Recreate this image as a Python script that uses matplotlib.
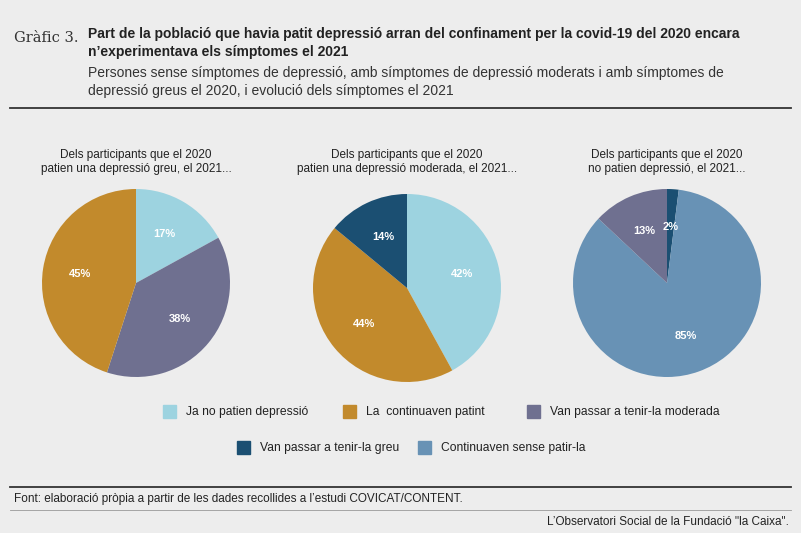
import matplotlib.pyplot as plt

plt.rcParams['font.family'] = ['Liberation Sans', 'DejaVu Sans']

W, H = 801, 533
bg = "#ededed"

c_ja = "#9dd3e0"
c_cont = "#c28a2c"
c_mod = "#6f7090"
c_greu = "#1b4f72"
c_sense = "#6892b5"

pie_titles = ["Dels participants que el 2020\npatien una depressió greu, el 2021...",
              "Dels participants que el 2020\npatien una depressió moderada, el 2021...",
              "Dels participants que el 2020\nno patien depressió, el 2021..."]
pie_values = [[17, 38, 45], [42, 44, 14], [2, 85, 13]]
pie_colors = [[c_ja, c_mod, c_cont], [c_ja, c_cont, c_greu], [c_greu, c_sense, c_mod]]
centers = [(136, 283), (407, 288), (667, 283)]
radius = 94

legend_labels = ["Ja no patien depressió", "La  continuaven patint", "Van passar a tenir-la moderada",
                 "Van passar a tenir-la greu", "Continuaven sense patir-la"]
legend_colors = [c_ja, c_cont, c_mod, c_greu, c_sense]
legend_pos = [(163, 412), (343, 412), (527, 412), (237, 448), (418, 448)]

fig = plt.figure(figsize=(W / 100, H / 100), dpi=100)
fig.patch.set_facecolor(bg)

def fx(x): return x / W
def fy(y): return 1 - y / H

fig.text(fx(14), fy(38), "Gràfic 3.", fontsize=10.5, family="DejaVu Serif", color="#333333", va="center")
fig.text(fx(88), fy(43), "Part de la població que havia patit depressió arran del confinament per la covid-19 del 2020 encara\nn’experimentava els símptomes el 2021",
         fontsize=10, fontweight="bold", color="#222222", va="center", linespacing=1.3)
fig.text(fx(88), fy(82), "Persones sense símptomes de depressió, amb símptomes de depressió moderats i amb símptomes de\ndepressió greus el 2020, i evolució dels símptomes el 2021",
         fontsize=10, color="#333333", va="center", linespacing=1.3)
fig.add_artist(plt.Line2D([fx(10), fx(791)], [fy(108), fy(108)], color="#333333", lw=1.3))
fig.add_artist(plt.Line2D([fx(10), fx(791)], [fy(487), fy(487)], color="#333333", lw=1.3))
fig.add_artist(plt.Line2D([fx(10), fx(791)], [fy(510), fy(510)], color="#999999", lw=0.6))

for (cx, cy), vals, cols, title in zip(centers, pie_values, pie_colors, pie_titles):
    ax = fig.add_axes([fx(cx - radius), fy(cy + radius), 2 * radius / W, 2 * radius / H])
    ax.pie(vals, colors=cols, startangle=90, counterclock=False, radius=1,
           autopct="%d%%", pctdistance=0.6,
           textprops=dict(color="white", fontsize=8, fontweight="bold"))
    ax.set_xlim(-1, 1); ax.set_ylim(-1, 1)
    fig.text(fx(cx), fy(162), title, ha="center", va="center", fontsize=8.5, color="#222222", linespacing=1.3)

for lab, col, (x, y) in zip(legend_labels, legend_colors, legend_pos):
    fig.patches.append(plt.Rectangle((fx(x), fy(y + 6)), 13 / W, 13 / H, color=col, transform=fig.transFigure))
    fig.text(fx(x + 23), fy(y), lab, fontsize=8.7, color="#222222", va="center")

fig.text(fx(14), fy(499), "Font: elaboració pròpia a partir de les dades recollides a l’estudi COVICAT/CONTENT.",
         fontsize=8.5, color="#222222", va="center")
fig.text(fx(789), fy(522), "L’Observatori Social de la Fundació \"la Caixa\".", fontsize=8.5, color="#222222",
         va="center", ha="right")

fig.savefig("out.png", dpi=100, facecolor=bg)
